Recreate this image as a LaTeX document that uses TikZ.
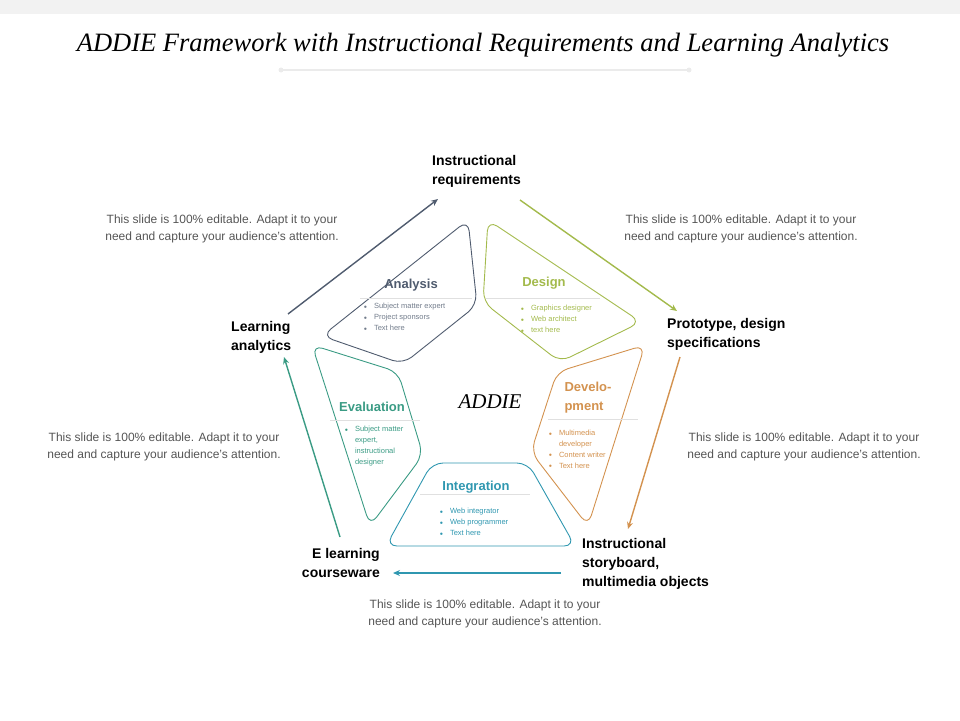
\documentclass[tikz,border=0pt]{standalone}
\usepackage{fontspec}
\setmainfont{Liberation Serif}
\setsansfont{Liberation Sans}
\usetikzlibrary{arrows.meta}
\definecolor{cana}{HTML}{4F5B6E}
\definecolor{cdes}{HTML}{A3BA4C}
\definecolor{cdev}{HTML}{D3924F}
\definecolor{cint}{HTML}{2F97B0}
\definecolor{ceva}{HTML}{3A9B84}
\definecolor{gtxt}{HTML}{555555}
\tikzset{
  petal/.style={line width=0.9pt, rounded corners=11pt},
  head/.style={font=\sffamily\bfseries\fontsize{13}{15}\selectfont, anchor=center},
  bl/.style={font=\sffamily\fontsize{7.5}{11}\selectfont, anchor=north west, align=left},
  lab/.style={font=\sffamily\bfseries\fontsize{14}{19}\selectfont, align=left, anchor=north west, inner sep=0pt},
  note/.style={font=\sffamily\fontsize{12}{16.5}\selectfont, text=gtxt, align=center},
  arr/.style={line width=1.4pt, -{Stealth[length=7pt,width=6pt]}},
  sep/.style={draw=black!12, line width=0.5pt}
}
\newcommand{\bul}{\makebox[1.4em][l]{\raisebox{0.1em}{\tiny$\bullet$}}}
\newcommand{\nob}{\hspace*{1.4em}}
\begin{document}
\begin{tikzpicture}[x=1pt,y=-1pt]
\useasboundingbox (0,0) rectangle (960,720);
\fill[black!5] (0,0) rectangle (960,14);
\node[font=\itshape\fontsize{26.5}{30}\selectfont] (title) at (483,45) {ADDIE Framework with Instructional Requirements and Learning Analytics};
\draw[black!8, line width=1.5pt] (281,70) -- (689,70);
\fill[black!8] (281,70) circle (2.5) (689,70) circle (2.5);

% petals
\draw[petal, cana] (468,220) -- (477,305) -- (403,364) -- (322,336) -- cycle;
\draw[petal, cdes] (488,220) -- (641,322) -- (560,362) -- (483,302) -- cycle;
\draw[petal, cdev] (645,345) -- (588,526) -- (531,452) -- (557,372) -- cycle;
\draw[petal, ceva] (312,345) -- (398,372) -- (423,455) -- (370,526) -- cycle;
\draw[petal, cint] (432,463) -- (528,463) -- (575,546) -- (386,546) -- cycle;

% Analysis
\node[head, text=cana] (ha) at (411,285) {Analysis};
\draw[sep] (360,298) -- (472,298);
\node[bl, text=cana!80] (ba) at (360,300) {\bul Subject matter expert\\\bul Project sponsors\\\bul Text here};
% Design
\node[head, text=cdes] (hd) at (544,283) {Design};
\draw[sep] (486,298) -- (600,298);
\node[bl, text=cdes] (bd) at (517,302) {\bul Graphics designer\\\bul Web architect\\\bul text here};
% Development
\node[head, text=cdev, align=left, font=\sffamily\bfseries\fontsize{13}{19}\selectfont] (hv) at (588,398) {Develo-\\pment};
\draw[sep] (548,419) -- (638,419);
\node[bl, text=cdev, font=\sffamily\fontsize{7.5}{10.8}\selectfont] (bv) at (545,427) {\bul Multimedia\\\nob developer\\\bul Content writer\\\bul Text here};
% Evaluation
\node[head, text=ceva] (he) at (372,407) {Evaluation};
\draw[sep] (330,420) -- (420,420);
\node[bl, text=ceva, font=\sffamily\fontsize{7.5}{10.8}\selectfont] (be) at (341,423) {\bul Subject matter\\\nob expert,\\\nob instructional\\\nob designer};
% Integration
\node[head, text=cint] (hi) at (476,487) {Integration};
\draw[sep] (420,494) -- (530,494);
\node[bl, text=cint] (bi) at (436,505) {\bul Web integrator\\\bul Web programmer\\\bul Text here};

\node[font=\itshape\fontsize{21}{24}\selectfont] (addie) at (490,402) {ADDIE};

% arrows
\coordinate (a1s) at (288,314); \coordinate (a1e) at (438,199);
\coordinate (a2s) at (520,200); \coordinate (a2e) at (677,311);
\coordinate (a3s) at (680,357); \coordinate (a3e) at (628,529);
\coordinate (a4s) at (561,573); \coordinate (a4e) at (393,573);
\coordinate (a5s) at (340,537); \coordinate (a5e) at (284,357);
\draw[arr, cana] (a1s) -- (a1e);
\draw[arr, cdes] (a2s) -- (a2e);
\draw[arr, cdev] (a3s) -- (a3e);
\draw[arr, cint] (a4s) -- (a4e);
\draw[arr, ceva] (a5s) -- (a5e);

% labels
\node[lab] (l1) at (432,155) {Instructional\\requirements};
\node[lab] (l2) at (667,318) {Prototype, design\\specifications};
\node[lab] (l3) at (582,538) {Instructional\\storyboard,\\multimedia objects};
\node[lab, align=right, anchor=north east] (l4) at (380,548) {E learning\\courseware};
\node[lab] (l5) at (231,321) {Learning\\analytics};

% notes
\node[note] (n1) at (222,229) {This slide is 100\% editable. Adapt it to your\\need and capture your audience’s attention.};
\node[note] (n2) at (741,229) {This slide is 100\% editable. Adapt it to your\\need and capture your audience’s attention.};
\node[note] (n3) at (164,447) {This slide is 100\% editable. Adapt it to your\\need and capture your audience’s attention.};
\node[note] (n4) at (804,447) {This slide is 100\% editable. Adapt it to your\\need and capture your audience’s attention.};
\node[note] (n5) at (485,614) {This slide is 100\% editable. Adapt it to your\\need and capture your audience’s attention.};
\end{tikzpicture}
\end{document}
